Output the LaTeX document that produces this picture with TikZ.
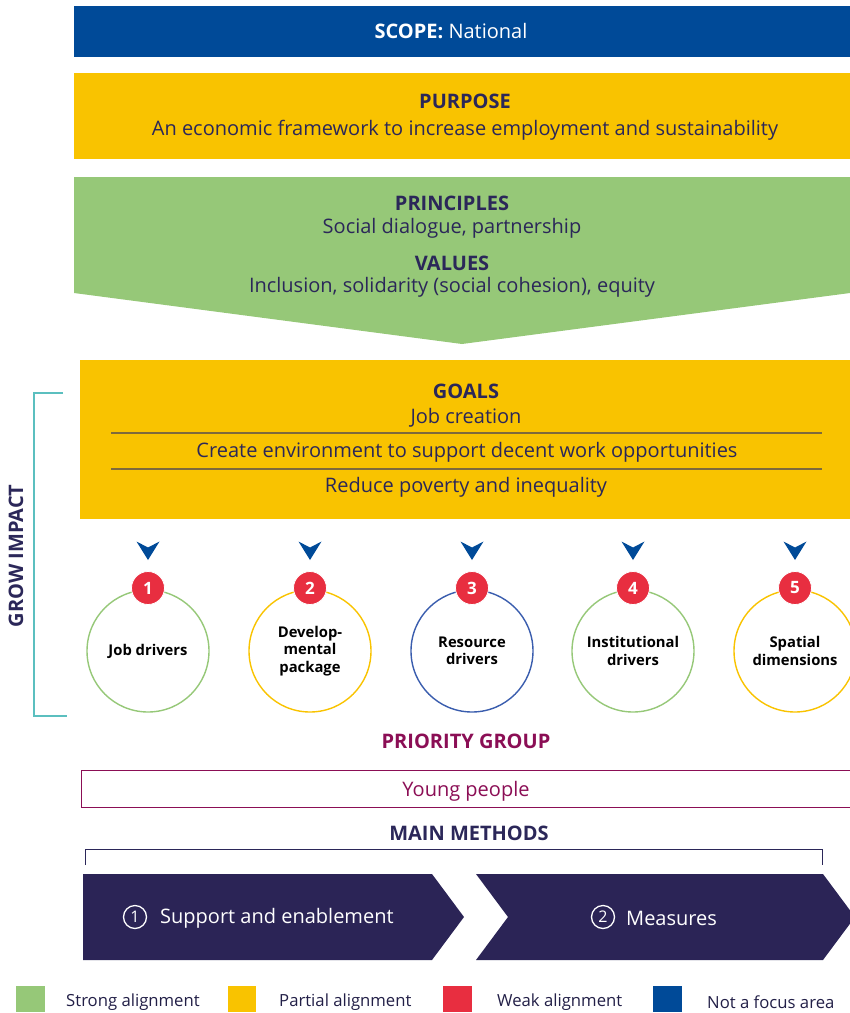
\documentclass[tikz,border=0pt]{standalone}
\usepackage{fontspec}
\setmainfont{Open Sans}
\definecolor{scopeblue}{HTML}{004A98}
\definecolor{pyellow}{HTML}{F9C300}
\definecolor{pgreen}{HTML}{96C878}
\definecolor{pred}{HTML}{E82E40}
\definecolor{navy}{HTML}{2B2759}
\definecolor{chevnavy}{HTML}{2B2456}
\definecolor{maroon}{HTML}{8B0E55}
\definecolor{teal}{HTML}{5BBFBF}
\definecolor{cblue}{HTML}{3A5DAE}
\definecolor{ruleline}{HTML}{7E6A3C}
\begin{document}
\begin{tikzpicture}[x=1pt,y=-1pt,
  big/.style={font=\fontsize{20}{24}\selectfont, inner sep=0pt},
  head/.style={font=\bfseries\fontsize{20}{24}\selectfont, inner sep=0pt, text=navy},
  body/.style={font=\fontsize{20}{24}\selectfont, inner sep=0pt, text=navy, yshift=-2pt},
  ring/.style={circle, minimum size=122pt, line width=1.4pt, fill=white, inner sep=0pt, align=center, font=\bfseries\fontsize{14.8}{17.3}\selectfont},
  badge/.style={circle, fill=pred, draw=white, line width=0.8pt, minimum size=33pt, inner sep=0pt, text=white, font=\bfseries\fontsize{17}{20}\selectfont},
  downarrow/.style={fill=scopeblue},
  circnum/.style={circle, draw=white, line width=1.3pt, minimum size=23pt, inner sep=0pt, text=white, font=\fontsize{16}{18}\selectfont},
  chevtext/.style={text=white, font=\fontsize{20}{24}\selectfont, inner sep=0pt, anchor=west},
  legtext/.style={font=\fontsize{16.7}{20}\selectfont, inner sep=0pt, anchor=west, text=navy!80!black, yshift=-2pt}
]
\useasboundingbox (0,0) rectangle (850,1013);

% scope
\fill[scopeblue] (74,6) rectangle (850,57);
\node[big, text=white] (scope) at (451,31) {\textbf{SCOPE:} National};

% purpose
\fill[pyellow] (74,73) rectangle (850,159);
\node[head] (purpose) at (465,101) {PURPOSE};
\node[body] (purposetxt) at (465,128) {An economic framework to increase employment and sustainability};

% principles / values
\fill[pgreen] (74,177) -- (850,177) -- (850,293) -- (462,344) -- (74,293) -- cycle;
\node[head] (principles) at (452,203) {PRINCIPLES};
\node[body] (principlestxt) at (452,226) {Social dialogue, partnership};
\node[head] (values) at (452,263) {VALUES};
\node[body] (valuestxt) at (452,285) {Inclusion, solidarity (social cohesion), equity};

% goals
\fill[pyellow] (80,360) rectangle (850,519);
\node[head] (goals) at (466,391) {GOALS};
\node[body] (g1) at (466,416) {Job creation};
\draw[ruleline, line width=1.3pt] (111,433) -- (822,433);
\node[body] (g2) at (467,450) {Create environment to support decent work opportunities};
\draw[ruleline, line width=1.3pt] (111,469) -- (822,469);
\node[body] (g3) at (466,485) {Reduce poverty and inequality};

% grow impact bracket
\draw[teal, line width=2pt] (63,393) -- (34,393) -- (34,716) -- (67,716);
\node[font=\bfseries\fontsize{20}{24}\selectfont, text=navy, rotate=90, inner sep=0pt] (grow) at (16,556) {GROW IMPACT};

% drivers
\foreach \x/\c/\n/\t/\lab in {148/pgreen/1/{Job drivers}/d1, 310/pyellow/2/{Develop-\\mental\\package}/d2, 472/cblue/3/{Resource\\drivers}/d3, 633/pgreen/4/{Institutional\\drivers}/d4, 795/pyellow/5/{Spatial\\dimensions}/d5}{
  \fill[downarrow] (\x-11.5,541.5) -- (\x,547.5) -- (\x+11.5,541.5) -- (\x,560) -- cycle;
  \node[ring, draw=\c] (\lab) at (\x,651) {\t};
  \node[badge] (b\lab) at (\x,588) {\n};
}

% priority group
\node[font=\bfseries\fontsize{20}{24}\selectfont, text=maroon, inner sep=0pt] (prio) at (466,741) {PRIORITY GROUP};
\draw[maroon, line width=1pt] (81,770) rectangle (851,807);
\node[font=\fontsize{20}{24}\selectfont, text=maroon, inner sep=0pt, yshift=-2pt] (young) at (466,789) {Young people};

% main methods
\node[head] (methods) at (469,833) {MAIN METHODS};
\draw[navy, line width=0.8pt] (85,865) -- (85,849) -- (822,849) -- (822,865);

\fill[chevnavy] (83,874) -- (432,874) -- (464,917) -- (432,960) -- (83,960) -- cycle;
\fill[chevnavy] (476,874) -- (823,874) -- (855,917) -- (823,960) -- (476,960) -- (508,917) -- cycle;
\node[circnum] (n1) at (135,917) {1};
\node[chevtext, yshift=-1pt] (m1) at (160,917) {Support and enablement};
\node[circnum] (n2) at (603,917) {2};
\node[chevtext, yshift=-1pt] (m2) at (626,917) {Measures};

% legend
\fill[pgreen] (16,986) rectangle (45,1012);
\node[legtext] (l1) at (66,1000) {Strong alignment};
\fill[pyellow] (228,986) rectangle (256,1012);
\node[legtext] (l2) at (279,1000) {Partial alignment};
\fill[pred] (443,986) rectangle (472,1012);
\node[legtext] (l3) at (497,1000) {Weak alignment};
\fill[scopeblue] (653,986) rectangle (682,1012);
\node[legtext] (l4) at (707,1000) {Not a focus area};
\end{tikzpicture}
\end{document}
